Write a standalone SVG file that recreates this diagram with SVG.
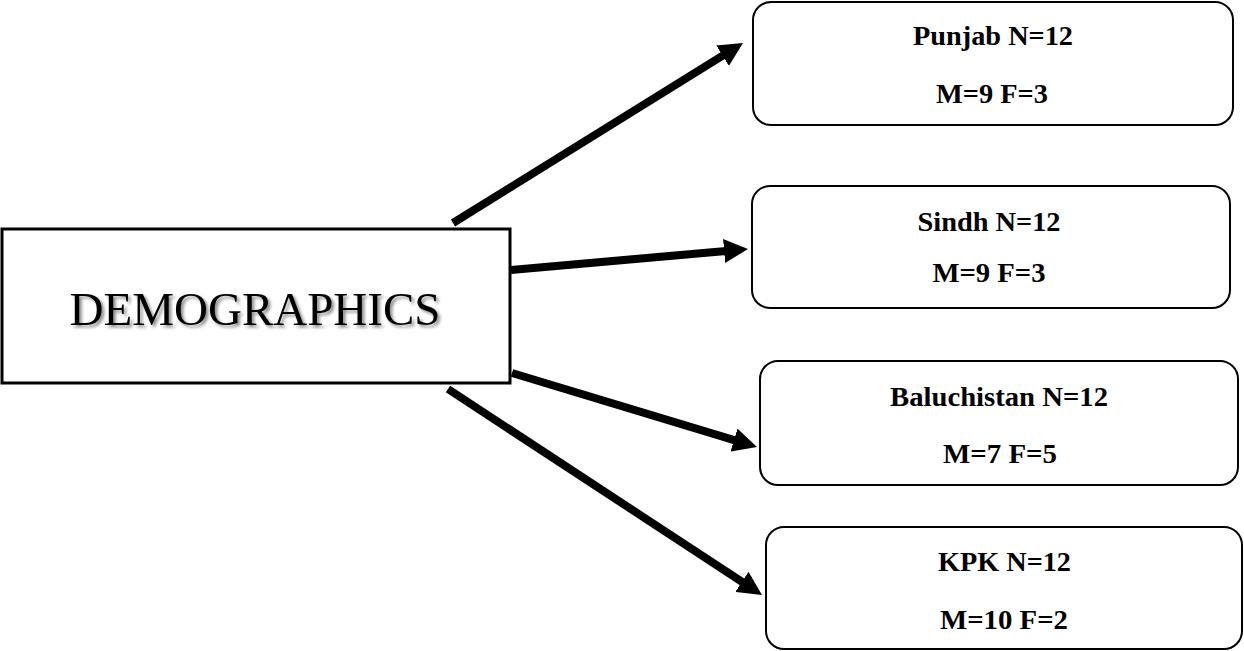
<svg xmlns="http://www.w3.org/2000/svg" width="1244" height="651" viewBox="0 0 1244 651">
<style>
.main{fill:#fff;stroke:#000;stroke-width:3}
.box{fill:#fff;stroke:#000;stroke-width:2}
.lbl{font-family:"Liberation Serif","Times New Roman",serif;font-weight:bold;font-size:28px;fill:#000;text-anchor:middle}
.title{font-family:"Liberation Serif","Times New Roman",serif;font-size:47px;fill:#000;text-anchor:middle}
.arr{stroke:#000;stroke-width:8;fill:none;marker-end:url(#ah)}
</style>
<defs>
<marker id="ah" markerUnits="userSpaceOnUse" markerWidth="24" markerHeight="24" refX="2" refY="12" orient="auto">
<path d="M0,0 L24,12 L0,24 z" fill="#000"/>
</marker>
<filter id="sh" x="-10%" y="-30%" width="120%" height="160%">
<feDropShadow dx="2.5" dy="2.5" stdDeviation="1.5" flood-color="#000" flood-opacity="0.45"/>
</filter>
</defs>
<rect width="1244" height="651" fill="#fff"/>
<g id="connectors">
<line class="arr" x1="453" y1="223" x2="724.3" y2="54.6"/>
<line class="arr" x1="511" y1="270" x2="726.1" y2="250.9"/>
<line class="arr" x1="512" y1="373" x2="735.9" y2="440.6"/>
<line class="arr" x1="448" y1="389" x2="743.6" y2="582.9"/>
</g>
<g id="demographics">
<rect class="main" x="2" y="229" width="508" height="154"/>
<text class="title" x="255" y="325" filter="url(#sh)">DEMOGRAPHICS</text>
</g>
<g id="punjab">
<rect class="box" x="753" y="2" width="480" height="123" rx="18"/>
<text class="lbl" x="993" y="45" textLength="160" lengthAdjust="spacingAndGlyphs">Punjab N=12</text>
<text class="lbl" x="992" y="103" textLength="112" lengthAdjust="spacingAndGlyphs">M=9 F=3</text>
</g>
<g id="sindh">
<rect class="box" x="752" y="186" width="478" height="122" rx="18"/>
<text class="lbl" x="989" y="231" textLength="143" lengthAdjust="spacingAndGlyphs">Sindh N=12</text>
<text class="lbl" x="989" y="282" textLength="113" lengthAdjust="spacingAndGlyphs">M=9 F=3</text>
</g>
<g id="baluchistan">
<rect class="box" x="760" y="361" width="478" height="124" rx="18"/>
<text class="lbl" x="999" y="406" textLength="218" lengthAdjust="spacingAndGlyphs">Baluchistan N=12</text>
<text class="lbl" x="1000" y="463" textLength="114" lengthAdjust="spacingAndGlyphs">M=7 F=5</text>
</g>
<g id="kpk">
<rect class="box" x="766" y="527" width="476" height="122" rx="18"/>
<text class="lbl" x="1004.5" y="571" textLength="133" lengthAdjust="spacingAndGlyphs">KPK N=12</text>
<text class="lbl" x="1004" y="629" textLength="128" lengthAdjust="spacingAndGlyphs">M=10 F=2</text>
</g>
</svg>
